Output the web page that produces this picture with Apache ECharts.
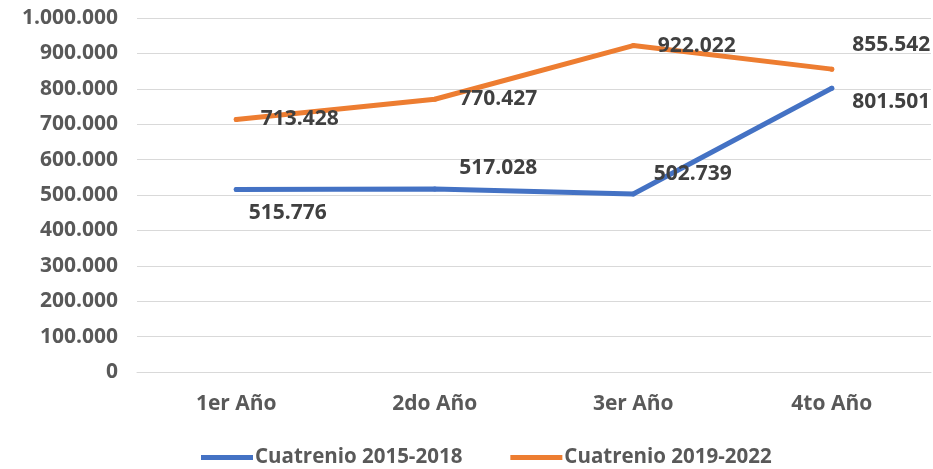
<!DOCTYPE html>
<html>
<head>
<meta charset="utf-8">
<script src="https://cdn.jsdelivr.net/npm/echarts@6/dist/echarts.min.js"></script>
<style>
  html, body { margin: 0; padding: 0; background: #fff; }
  #chart { width: 933px; height: 469px; }
</style>
</head>
<body>
<div id="chart"></div>
<script>
// datos
const categorias = ['1er Año', '2do Año', '3er Año', '4to Año'];
const cuatrenio1 = [515776, 517028, 502739, 801501];
const cuatrenio2 = [713428, 770427, 922022, 855542];
const yTicks = [0, 100000, 200000, 300000, 400000, 500000, 600000, 700000, 800000, 900000, 1000000];

// desplazamiento de etiquetas (como en el original)
const offs1 = [[-12, 24], [0, -21], [-4, -20], [-4, 14]];
const offs2 = [[0, 0], [0, 0], [0, 0], [-4, -24]];

const fmt = v => String(v).replace(/\B(?=(\d{3})+(?!\d))/g, '.');
const font = '"Open Sans", sans-serif';

const chart = echarts.init(document.getElementById('chart'));

const makeData = (vals, offs) => vals.map((v, i) => ({
  value: v,
  label: { offset: offs[i] }
}));

const labelStyle = () => ({
  show: true,
  position: 'right',
  distance: 22,
  fontFamily: font,
  fontWeight: 'bold',
  fontSize: 21,
  color: '#404040',
  formatter: p => fmt(p.value)
});

chart.setOption({
  animation: false,
  grid: { left: 137, right: 2, top: 18, bottom: 97, outerBoundsMode: 'none' },
  legend: {
    left: 196,
    top: 442,
    itemWidth: 52,
    itemHeight: 5,
    itemGap: 48,
    icon: 'rect',
    textStyle: { fontFamily: font, fontWeight: 'bold', fontSize: 20.5, color: '#595959', padding: [0, 0, 0, -3] },
    data: ['Cuatrenio 2015-2018', 'Cuatrenio 2019-2022']
  },
  xAxis: {
    type: 'category',
    data: categorias,
    boundaryGap: true,
    axisLine: { lineStyle: { color: '#d9d9d9', width: 1 } },
    axisTick: { show: false },
    axisLabel: { margin: 22, fontFamily: font, fontWeight: 'bold', fontSize: 21, color: '#595959' }
  },
  yAxis: {
    type: 'value',
    min: yTicks[0],
    max: yTicks[yTicks.length - 1],
    interval: yTicks[1] - yTicks[0],
    axisLine: { show: false },
    axisTick: { show: false },
    splitLine: { lineStyle: { color: '#d9d9d9', width: 1 } },
    axisLabel: { margin: 19, fontFamily: font, fontWeight: 'bold', fontSize: 21, color: '#595959', formatter: v => fmt(v) }
  },
  series: [
    {
      name: 'Cuatrenio 2015-2018',
      type: 'line',
      data: makeData(cuatrenio1, offs1),
      symbol: 'circle',
      symbolSize: 5,
      showSymbol: true,
      color: '#4472C4',
      lineStyle: { width: 5, cap: 'round', join: 'round' },
      label: labelStyle()
    },
    {
      name: 'Cuatrenio 2019-2022',
      type: 'line',
      data: makeData(cuatrenio2, offs2),
      symbol: 'circle',
      symbolSize: 5,
      showSymbol: true,
      color: '#ED7D31',
      lineStyle: { width: 5, cap: 'round', join: 'round' },
      label: labelStyle()
    }
  ]
});
</script>
</body>
</html>
